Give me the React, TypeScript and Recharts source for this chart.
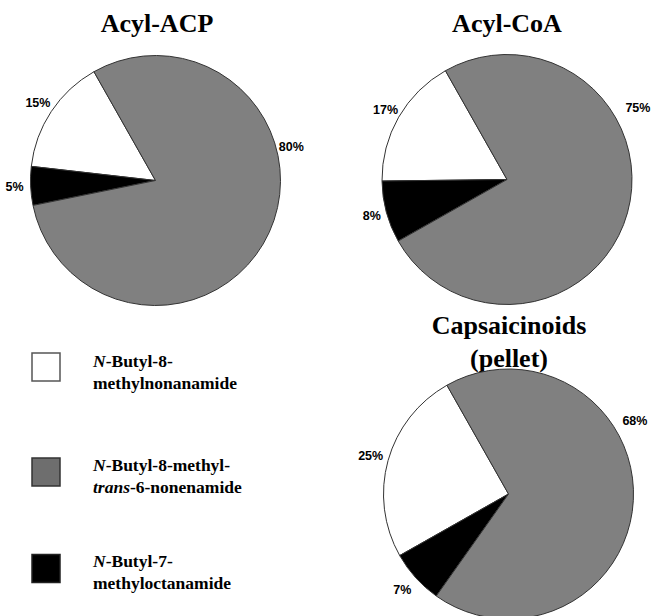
import React from 'react';
import { PieChart, Pie, Cell } from 'recharts';

const categories = [
  'N-Butyl-8-methylnonanamide',
  'N-Butyl-7-methyloctanamide',
  'N-Butyl-8-methyl-trans-6-nonenamide',
];
const acylAcpValues = [15, 5, 80];
const acylCoaValues = [17, 8, 75];
const capsaicinoidValues = [25, 7, 68];
const titles = ['Acyl-ACP', 'Acyl-CoA', 'Capsaicinoids', '(pellet)'];

const sliceColors = ['#ffffff', '#000000', '#808080'];

const toData = (vals: number[]) => categories.map((name, i) => ({ name, value: vals[i] }));

const RAD = Math.PI / 180;

const makeLabel = (grayAngle: number, grayDist: number, dist: number) => (props: any) => {
  const { cx, cy, midAngle, outerRadius, value, index } = props;
  const ang = index === 2 ? grayAngle : midAngle;
  const d = outerRadius + (index === 2 ? grayDist : dist);
  const x = cx + d * Math.cos(-ang * RAD);
  const y = cy + d * Math.sin(-ang * RAD);
  return (
    <text
      x={x}
      y={y}
      textAnchor="middle"
      dominantBaseline="central"
      fontFamily="'Liberation Sans', Arial, sans-serif"
      fontWeight="bold"
      fontSize={12.5}
      fill="#000"
    >
      {`${value}%`}
    </text>
  );
};

const serif = "'Liberation Serif', 'Times New Roman', serif";

const PieBlock = ({ vals, cx, cy, grayAngle, grayDist, dist }: any) => (
  <Pie
    data={toData(vals)}
    dataKey="value"
    nameKey="name"
    cx={cx}
    cy={cy}
    outerRadius={125}
    innerRadius={0}
    startAngle={119.5}
    endAngle={479.5}
    stroke="#333"
    strokeWidth={1}
    labelLine={false}
    label={makeLabel(grayAngle, grayDist, dist)}
    isAnimationActive={false}
  >
    {vals.map((_: number, i: number) => (
      <Cell key={i} fill={sliceColors[i]} stroke="#333" strokeWidth={1} />
    ))}
  </Pie>
);

export default function App() {
  const legendFont = { fontFamily: serif, fontWeight: 'bold' as const, fontSize: 17.5 };
  return (
    <div style={{ position: 'absolute', left: 0, top: 0, width: 653, height: 616, background: '#fff' }}>
      <PieChart width={653} height={616} margin={{ top: 0, right: 0, bottom: 0, left: 0 }}>
        {PieBlock({ vals: acylAcpValues, cx: 155.5, cy: 180.5, grayAngle: 14, grayDist: 15, dist: 16 })}
        {PieBlock({ vals: acylCoaValues, cx: 507, cy: 179.5, grayAngle: 28.5, grayDist: 24, dist: 15 })}
        {PieBlock({ vals: capsaicinoidValues, cx: 508.5, cy: 494, grayAngle: 30, grayDist: 21, dist: 18 })}
        <text x={157} y={31.5} textAnchor="middle" fontFamily={serif} fontWeight="bold" fontSize={26}>{titles[0]}</text>
        <text x={507} y={31.5} textAnchor="middle" fontFamily={serif} fontWeight="bold" fontSize={26}>{titles[1]}</text>
        <text x={509} y={334} textAnchor="middle" fontFamily={serif} fontWeight="bold" fontSize={26}>{titles[2]}</text>
        <text x={509} y={366.5} textAnchor="middle" fontFamily={serif} fontWeight="bold" fontSize={26}>{titles[3]}</text>

        <rect x={32} y={353} width={28} height={28} fill={sliceColors[0]} stroke="#555" strokeWidth={1.5} />
        <rect x={32} y={458} width={28} height={28} fill="#6e6e6e" stroke="#333" strokeWidth={1.5} />
        <rect x={32} y={554.5} width={28} height={28} fill={sliceColors[1]} stroke="#222" strokeWidth={1.5} />

        <text x={93} y={367.3} {...legendFont}>
          <tspan fontStyle="italic">N</tspan>-Butyl-8-
        </text>
        <text x={93} y={389.3} {...legendFont}>methylnonanamide</text>
        <text x={93} y={470.5} {...legendFont}>
          <tspan fontStyle="italic">N</tspan>-Butyl-8-methyl-
        </text>
        <text x={93} y={493} {...legendFont}>
          <tspan fontStyle="italic">trans</tspan>-6-nonenamide
        </text>
        <text x={93} y={566.7} {...legendFont}>
          <tspan fontStyle="italic">N</tspan>-Butyl-7-
        </text>
        <text x={93} y={589} {...legendFont}>methyloctanamide</text>
      </PieChart>
    </div>
  );
}
